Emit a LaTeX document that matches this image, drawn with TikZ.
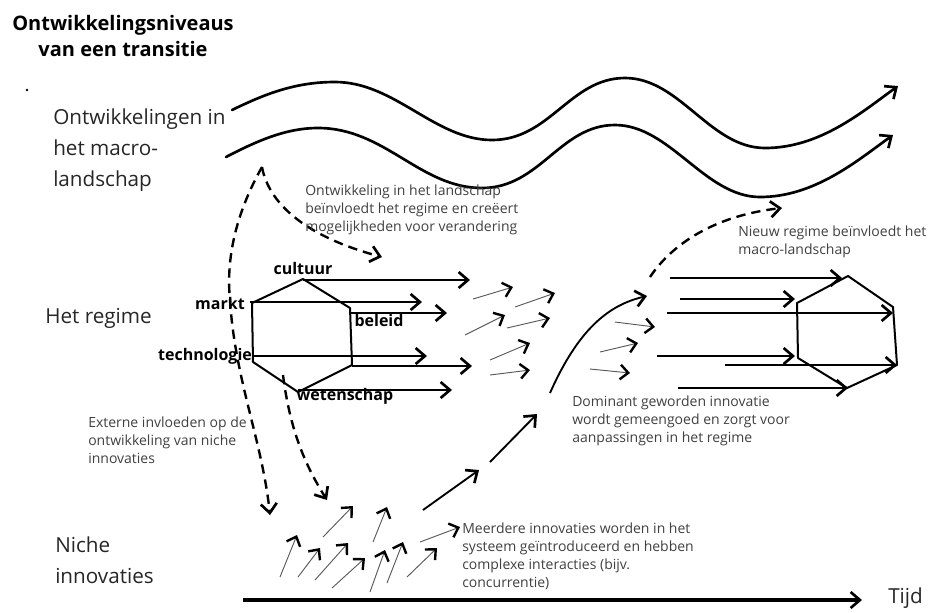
\documentclass[tikz,border=0pt]{standalone}
\usepackage{fontspec}
\setmainfont{Open Sans}
\usetikzlibrary{arrows.meta}

\begin{document}
\begin{tikzpicture}[x=0.75pt,y=-0.75pt,
    tip/.style={-{Straight Barb[length=7pt,width=12pt,line width=2pt]}},
    wave/.style={line width=2pt,line cap=round,tip},
    hexline/.style={line width=1.5pt,line join=round},
    flow/.style={line width=1.4pt,tip},
    thinflow/.style={line width=0.7pt,black!65,-{Straight Barb[length=6pt,width=11pt,line width=1.8pt,color=black]}},
    infl/.style={line width=1.8pt,dash pattern=on 7pt off 4.5pt,tip},
    note/.style={font=\fontsize{10.5}{13.5}\selectfont,text=black!75,align=left,anchor=west,inner sep=0pt},
    level/.style={font=\fontsize{15.5}{23}\selectfont,text=black!85,align=left,anchor=west,inner sep=0pt},
    factor/.style={font=\fontsize{12}{14}\selectfont\bfseries,inner sep=0pt}]
    \useasboundingbox (0,0) rectangle (934,612);

    % titel en niveaus
    \node[font=\fontsize{15}{19.5}\selectfont\bfseries,align=center] (title) at (123,36) {Ontwikkelingsniveaus\\van een transitie};
    \fill (27,90) circle (1pt);
    \node[level] (macro) at (53,150) {Ontwikkelingen in\\het macro-\\landschap};
    \node[level] (regime) at (45,318) {Het regime};
    \node[level] (niche) at (55,560) {Niche\\innovaties};

    % macro-landschap
    \draw[wave] (232,110) .. controls (265,94) and (295,82) .. (335,82) .. controls (395,82) and (435,140) .. (492,140) .. controls (550,140) and (570,78) .. (625,78) .. controls (680,78) and (710,148) .. (765,148) .. controls (820,148) and (862,112) .. (898,86);
    \draw[wave] (226,157) .. controls (255,142) and (285,128) .. (318,128) .. controls (385,128) and (420,188) .. (482,188) .. controls (540,188) and (560,125) .. (615,125) .. controls (670,125) and (705,197) .. (760,197) .. controls (815,197) and (858,160) .. (893,135);

    % regime links
    \coordinate (l1) at (303,279);
    \coordinate (l2) at (350,308);
    \coordinate (l3) at (352,365);
    \coordinate (l4) at (298,392);
    \coordinate (l5) at (253,362);
    \coordinate (l6) at (252,303);
    \draw[hexline] (l1) -- (l2) -- (l3) -- (l4) -- (l5) -- (l6) -- cycle;
    \foreach \xa/\y/\xb in {303/280/470, 250/302/422, 350/313/447, 253/356/427, 352/366/472, 298/390/452}
        \draw[flow] (\xa,\y) -- (\xb,\y);
    \node[factor] (cultuur) at (303,268) {cultuur};
    \node[factor] (markt) at (220,303) {markt};
    \node[factor] (beleid) at (379,320) {beleid};
    \node[factor] (technologie) at (205,356) {technologie};
    \node[factor] (wetenschap) at (345,396) {wetenschap};

    % regime rechts
    \coordinate (r1) at (848,276);
    \coordinate (r2) at (893,307);
    \coordinate (r3) at (897,365);
    \coordinate (r4) at (847,388);
    \coordinate (r5) at (798,358);
    \coordinate (r6) at (797,303);
    \draw[hexline] (r1) -- (r2) -- (r3) -- (r4) -- (r5) -- (r6) -- cycle;
    \foreach \xa/\y/\xb in {670/278/842, 680/299/795, 667/313/893, 657/356/795, 725/365/897, 678/388/848}
        \draw[flow] (\xa,\y) -- (\xb,\y);

    % kleine pijlen
    \foreach \xa/\ya/\xb/\yb in {473/299/513/287, 515/307/555/293, 465/335/505/315, 507/328/550/318, 490/360/530/343, 490/375/530/370,
        615/322/655/327, 600/352/638/343, 590/369/630/373,
        280/577/297/535, 298/577/320/548, 315/580/348/543, 323/537/353/506, 332/588/365/558,
        370/592/385/550, 387/583/403/542, 373/542/387/507, 407/577/437/548, 420/542/460/527}
        \draw[thinflow] (\xa,\ya) -- (\xb,\yb);

    % niche naar regime
    \draw[flow] (423,510) -- (479,470);
    \draw[flow] (490,462) -- (537,414);
    \draw[flow] (550,393) .. controls (578,330) and (608,305) .. (647,296);

    % invloeden
    \draw[infl] (262,167) .. controls (268,200) and (300,235) .. (382,257);
    \draw[infl] (262,167) .. controls (235,215) and (226,260) .. (230,300) .. controls (235,380) and (262,440) .. (270,515);
    \draw[infl] (283,375) .. controls (290,430) and (305,465) .. (327,500);
    \draw[infl] (650,277) .. controls (675,240) and (720,215) .. (782,208);

    % toelichting
    \node[note] (n1) at (305,210) {Ontwikkeling in het landschap\\be\"invloedt het regime en cre\"eert\\mogelijkheden voor verandering};
    \node[note] (n2) at (738,242) {Nieuw regime be\"invloedt het\\macro-landschap};
    \node[note] (n3) at (572,421) {Dominant geworden innovatie\\wordt gemeengoed en zorgt voor\\aanpassingen in het regime};
    \node[note] (n4) at (88,440) {Externe invloeden op de\\ontwikkeling van niche\\innovaties};
    \node[note] (n5) at (462,556) {Meerdere innovaties worden in het\\systeem ge\"introduceerd en hebben\\complexe interacties (bijv.\\concurrentie)};

    % tijd
    \coordinate (t0) at (243,600);
    \node[level] (tijd) at (888,598) {Tijd};
    \draw[line width=2.4pt,tip] (t0) -- (862,600);
\end{tikzpicture}
\end{document}
